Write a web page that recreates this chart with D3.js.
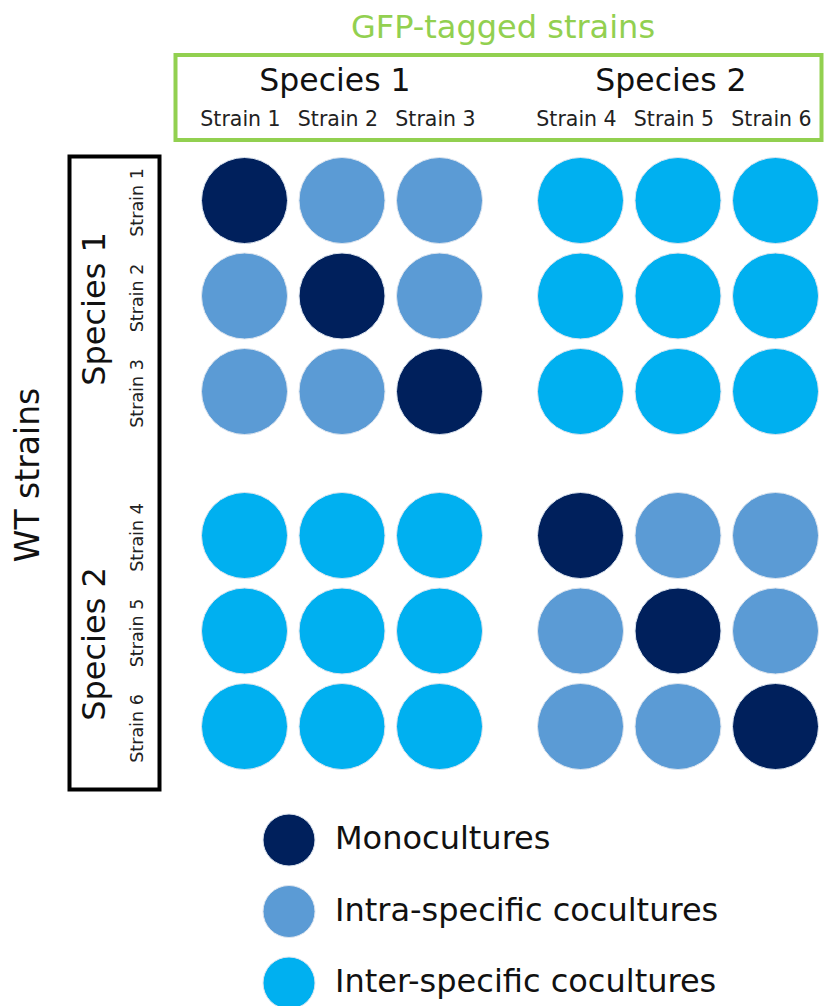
<!DOCTYPE html>
<html>
<head>
<meta charset="utf-8">
<script src="https://cdn.jsdelivr.net/npm/d3@7"></script>
<style>
  html, body { margin: 0; padding: 0; background: #ffffff; }
  svg { display: block; font-family: "DejaVu Sans", Verdana, sans-serif; }
</style>
</head>
<body>
<svg id="chart" width="824" height="1006"></svg>
<script>
// ---- data ----
const species = ["Species 1", "Species 2"];
const gfpStrains = ["Strain 1", "Strain 2", "Strain 3", "Strain 4", "Strain 5", "Strain 6"];
const wtStrains  = ["Strain 1", "Strain 2", "Strain 3", "Strain 4", "Strain 5", "Strain 6"];
// culture type per (WT row, GFP column): M = monoculture, A = intra-specific, E = inter-specific
const cultureType = [
  ["M", "A", "A", "E", "E", "E"],
  ["A", "M", "A", "E", "E", "E"],
  ["A", "A", "M", "E", "E", "E"],
  ["E", "E", "E", "M", "A", "A"],
  ["E", "E", "E", "A", "M", "A"],
  ["E", "E", "E", "A", "A", "M"]
];
const legendKeys   = ["M", "A", "E"];
const legendLabels = ["Monocultures", "Intra-specific cocultures", "Inter-specific cocultures"];
const legendColors = ["#00205c", "#5b9bd5", "#00b0f0"];
const topTitle  = "GFP-tagged strains";
const sideTitle = "WT strains";

// ---- scales ----
const svg = d3.select("#chart");
const color = d3.scaleOrdinal().domain(legendKeys).range(legendColors);

const xGroup = d3.scalePoint().domain(species).range([342, 678]);
const xInner = d3.scalePoint().domain([0, 1, 2]).range([-97.5, 97.5]);
const yGroup = d3.scalePoint().domain(species).range([296, 631]);
const yInner = d3.scalePoint().domain([0, 1, 2]).range([-95.5, 95.5]);

const xPos = i => xGroup(species[Math.floor(i / 3)]) + xInner(i % 3);
const yPos = i => yGroup(species[Math.floor(i / 3)]) + yInner(i % 3);
const radius = 43;

// ---- top header ----
svg.append("text")
  .attr("x", 503).attr("y", 38)
  .attr("text-anchor", "middle")
  .attr("font-size", 32)
  .attr("fill", "#92d050")
  .text(topTitle);

svg.append("rect")
  .attr("x", 175.5).attr("y", 55)
  .attr("width", 646).attr("height", 85)
  .attr("fill", "none")
  .attr("stroke", "#92d050")
  .attr("stroke-width", 4);

svg.selectAll("text.spTop")
  .data(species)
  .join("text")
  .attr("class", "spTop")
  .attr("x", d => xGroup(d) - 7)
  .attr("y", 91)
  .attr("text-anchor", "middle")
  .attr("font-size", 31.5)
  .attr("fill", "#111")
  .text(d => d);

svg.selectAll("text.stTop")
  .data(gfpStrains)
  .join("text")
  .attr("class", "stTop")
  .attr("x", (d, i) => xPos(i) - 4)
  .attr("y", 126)
  .attr("text-anchor", "middle")
  .attr("font-size", 20.5)
  .attr("fill", "#222")
  .text(d => d);

// ---- left header ----
svg.append("text")
  .attr("transform", `translate(39, ${475}) rotate(-90)`)
  .attr("text-anchor", "middle")
  .attr("font-size", 33)
  .attr("fill", "#111")
  .text(sideTitle);

svg.append("rect")
  .attr("x", 69.5).attr("y", 156.5)
  .attr("width", 90).attr("height", 633)
  .attr("fill", "none")
  .attr("stroke", "#000")
  .attr("stroke-width", 4);

svg.selectAll("text.spSide")
  .data(species)
  .join("text")
  .attr("class", "spSide")
  .attr("transform", d => `translate(105, ${yGroup(d) + 13}) rotate(-90)`)
  .attr("text-anchor", "middle")
  .attr("font-size", 32)
  .attr("fill", "#111")
  .text(d => d);

svg.selectAll("text.stSide")
  .data(wtStrains)
  .join("text")
  .attr("class", "stSide")
  .attr("transform", (d, i) => `translate(143, ${yPos(i) + 2}) rotate(-90)`)
  .attr("text-anchor", "middle")
  .attr("font-size", 17.5)
  .attr("fill", "#222")
  .text(d => d);

// ---- circles ----
const cells = [];
cultureType.forEach((row, r) => row.forEach((t, c) => cells.push({ r, c, t })));

svg.selectAll("circle.cell")
  .data(cells)
  .join("circle")
  .attr("class", "cell")
  .attr("cx", d => xPos(d.c))
  .attr("cy", d => yPos(d.r))
  .attr("r", radius)
  .attr("fill", d => color(d.t))
  .attr("stroke", "#dde5ef")
  .attr("stroke-width", 1);

// ---- legend ----
const yLegend = d3.scalePoint().domain(legendKeys).range([840, 983]);
const lg = svg.selectAll("g.leg")
  .data(legendKeys)
  .join("g")
  .attr("class", "leg")
  .attr("transform", d => `translate(0, ${yLegend(d)})`);

lg.append("circle")
  .attr("cx", 289).attr("cy", 0)
  .attr("r", 26)
  .attr("fill", d => color(d))
  .attr("stroke", "#dde5ef")
  .attr("stroke-width", 1);

lg.append("text")
  .attr("x", 335).attr("y", 9)
  .attr("font-size", 32)
  .attr("fill", "#111")
  .text((d, i) => legendLabels[i]);
</script>
</body>
</html>
